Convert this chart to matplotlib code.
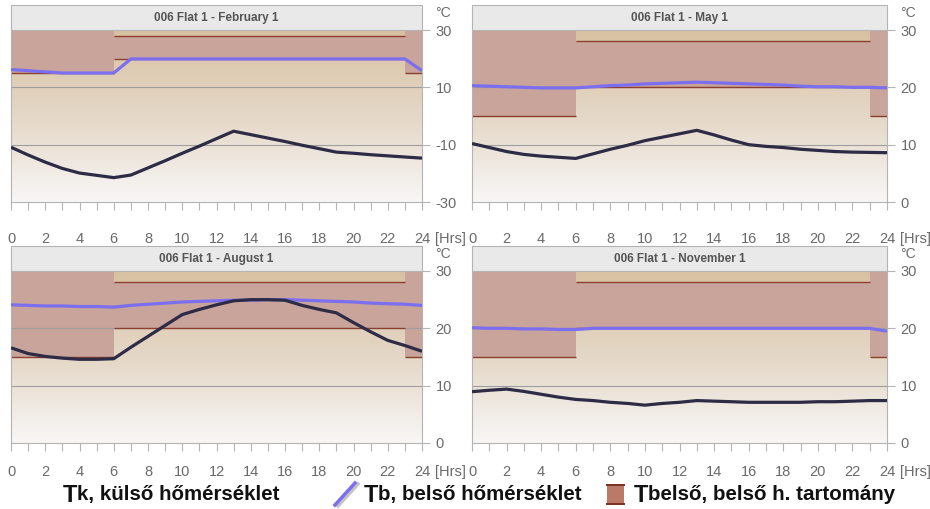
import numpy as np
import matplotlib
matplotlib.use('Agg')
import matplotlib.pyplot as plt
from matplotlib.patches import Rectangle
from matplotlib.lines import Line2D
from matplotlib.colors import LinearSegmentedColormap

plt.rcParams['font.family'] = ['Liberation Sans', 'DejaVu Sans']
plt.rcParams['axes.unicode_minus'] = False

hours = np.arange(25)

titles = ['006 Flat 1 - February 1', '006 Flat 1 - May 1',
          '006 Flat 1 - August 1', '006 Flat 1 - November 1']

# outdoor temperature Tk
feb_tk = [-10.9, -13.6, -16.1, -18.3, -19.9, -20.7, -21.5, -20.6, -18.1, -15.6, -13.0, -10.5, -7.9,
          -5.3, -6.5, -7.7, -8.9, -10.2, -11.4, -12.6, -13.0, -13.5, -13.9, -14.3, -14.7]
may_tk = [10.2, 9.5, 8.8, 8.3, 8.0, 7.8, 7.6, 8.4, 9.2, 9.9, 10.7, 11.3, 11.9,
          12.5, 11.7, 10.8, 10.0, 9.7, 9.5, 9.2, 9.0, 8.8, 8.7, 8.65, 8.6]
aug_tk = [16.6, 15.6, 15.1, 14.8, 14.6, 14.6, 14.7, 16.7, 18.6, 20.5, 22.4, 23.3, 24.1,
          24.8, 25.0, 25.0, 24.9, 24.0, 23.3, 22.7, 21.0, 19.4, 17.9, 17.0, 16.0]
nov_tk = [8.95, 9.2, 9.4, 9.0, 8.5, 8.0, 7.6, 7.4, 7.1, 6.9, 6.6, 6.9, 7.1,
          7.4, 7.3, 7.2, 7.1, 7.1, 7.1, 7.1, 7.2, 7.2, 7.3, 7.4, 7.4]

# indoor temperature Tb
feb_tb = [16.2, 15.8, 15.4, 15.0, 15.0, 15.0, 15.0, 19.9, 19.9, 19.9, 19.9, 19.9, 19.9,
          19.9, 19.9, 19.9, 19.9, 19.9, 19.9, 19.9, 19.9, 19.9, 19.9, 19.9, 15.8]
may_tb = [20.3, 20.2, 20.1, 20.0, 19.9, 19.9, 19.9, 20.1, 20.3, 20.4, 20.6, 20.7, 20.8,
          20.9, 20.8, 20.7, 20.6, 20.5, 20.4, 20.2, 20.1, 20.1, 20.0, 20.0, 19.9]
aug_tb = [24.1, 24.0, 23.9, 23.9, 23.8, 23.8, 23.7, 24.0, 24.2, 24.4, 24.6, 24.7, 24.8,
          24.9, 24.9, 25.0, 25.0, 24.9, 24.8, 24.7, 24.6, 24.4, 24.3, 24.2, 24.0]
nov_tb = [20.1, 20.0, 20.0, 19.9, 19.9, 19.8, 19.8, 20.0, 20.0, 20.0, 20.0, 20.0, 20.0,
          20.0, 20.0, 20.0, 20.0, 20.0, 20.0, 20.0, 20.0, 20.0, 20.0, 20.0, 19.5]

# indoor comfort range: periods (start, end) with lower / upper limit
range_start = [0, 6, 23]
range_end = [6, 23, 24]
range_low = [15, 20, 15]
range_high = [32, 28, 32]

y_limits = [(-30, 30), (0, 30), (0, 30), (0, 30)]
y_ticks = [[-30, -10, 10, 30], [0, 10, 20, 30], [0, 10, 20, 30], [0, 10, 20, 30]]
x_ticks = list(range(0, 25, 2))

tk_all = [feb_tk, may_tk, aug_tk, nov_tk]
tb_all = [feb_tb, may_tb, aug_tb, nov_tb]

W, H = 930, 509
fig = plt.figure(figsize=(W / 100, H / 100), dpi=100)

# axes boxes in pixels: left, top, width, height
boxes = [(11, 30, 411, 172), (472, 30, 415, 172),
         (11, 271, 411, 172), (472, 271, 415, 172)]
label_pad = [16, 16, 10, 10]
tick_len = 5.8

grad = LinearSegmentedColormap.from_list('bg', [(0, '#f8f7f6'), (0.45, '#e6dacb'), (1, '#d8c1a2')])
band_color = '#c8a49a'
edge_color = '#8c3f2e'
axis_gray = '#b4b4b4'
text_gray = '#6a6a6a'

for i in range(4):
    l, t, w, h = boxes[i]
    ax = fig.add_axes([l / W, 1 - (t + h) / H, w / W, h / H])
    y0, y1 = y_limits[i]

    ax.imshow(np.linspace(0, 1, 256).reshape(-1, 1), cmap=grad, origin='lower',
              extent=[0, 24, y0, y1], aspect='auto', zorder=0)

    for s, e, lo, hi in zip(range_start, range_end, range_low, range_high):
        ax.fill_between([s, e], lo, hi, color=band_color, lw=0, zorder=1)
        ax.hlines([lo, hi], s, e, color=edge_color, lw=1.0, zorder=2)

    for yt in y_ticks[i][1:-1]:
        ax.axhline(yt, color='#9e9e9e', lw=0.8, zorder=1.5)

    ax.plot(hours, tb_all[i], color='#7b6ff0', lw=2.3, zorder=4, solid_capstyle='butt')
    ax.plot(hours, tk_all[i], color='#2d2b45', lw=2.3, zorder=5, solid_capstyle='butt')

    ax.set_xlim(0, 24)
    ax.set_ylim(y0, y1)

    ax.yaxis.tick_right()
    ax.set_yticks(y_ticks[i])
    ax.set_xticks(x_ticks)
    ax.set_xticks(range(25), minor=True)
    ax.tick_params(axis='y', length=tick_len, width=0.8, color=axis_gray, labelsize=10.5,
                   labelcolor=text_gray, pad=4)
    ax.tick_params(axis='x', which='both', length=tick_len, width=0.8, color=axis_gray,
                   labelsize=10.5, labelcolor=text_gray, pad=label_pad[i])
    for side in ['left', 'bottom', 'right']:
        ax.spines[side].set_color(axis_gray)
        ax.spines[side].set_linewidth(0.8)
    ax.spines['top'].set_visible(False)

    # title bar above the plot area
    bar_h = 25 / h
    ax.add_patch(Rectangle((0, 1), 1, bar_h, transform=ax.transAxes, clip_on=False,
                           facecolor='#e9e9e9', edgecolor=axis_gray, lw=0.8, zorder=6))
    ax.text(0.5, 1 + bar_h / 2, titles[i], transform=ax.transAxes, ha='center', va='center',
            fontsize=8.5, fontweight='bold', color='#555555', zorder=7)

    ax.text(1 + 13 / w, 1 + 17 / h, '°C', transform=ax.transAxes, ha='left', va='center',
            fontsize=10, color=text_gray)
    ax.annotate('[Hrs]', xy=(1, 0), xycoords='axes fraction',
                xytext=(13 * 0.72, -(tick_len + label_pad[i])),
                textcoords='offset points', ha='left', va='top',
                fontsize=10.5, color=text_gray)

# legend along the bottom edge
ly = 1 - 495 / H
leg_kw = dict(fontweight='bold', color='#111111', va='center')


def legend_item(x, head, rest):
    t = fig.text(x / W, ly, head, fontsize=17, **leg_kw)
    fig.canvas.draw()
    bb = t.get_window_extent()
    fig.text(bb.x1 / W, ly + 0.5 / H, rest, fontsize=14.8, **leg_kw)


legend_item(63, 'T', 'k, külső hőmérséklet')
legend_item(364, 'T', 'b, belső hőmérséklet')
legend_item(634, 'T', 'belső, belső h. tartomány')

fig.add_artist(Line2D([338 / W, 358 / W], [1 - 506 / H, 1 - 484 / H], color='#c4c4c4', lw=2.5))
fig.add_artist(Line2D([335 / W, 355 / W], [1 - 505 / H, 1 - 483 / H], color='#7b6ff0', lw=2.5))
fig.add_artist(Rectangle((607 / W, 1 - 505 / H), 17 / W, 21 / H, transform=fig.transFigure,
                         facecolor='#bb7a68', edgecolor='none'))
fig.add_artist(Rectangle((606 / W, 1 - 505 / H), 19 / W, 2 / H, transform=fig.transFigure,
                         facecolor='#7d3322', edgecolor='none'))
fig.add_artist(Rectangle((606 / W, 1 - 486 / H), 19 / W, 2 / H, transform=fig.transFigure,
                         facecolor='#7d3322', edgecolor='none'))

fig.savefig('out.png', dpi=100, facecolor='white')
